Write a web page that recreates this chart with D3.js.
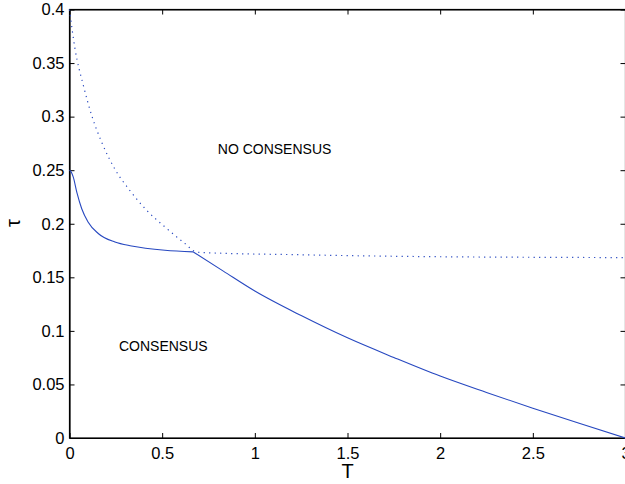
<!DOCTYPE html>
<html>
<head>
<meta charset="utf-8">
<script src="https://cdn.jsdelivr.net/npm/d3@7"></script>
<style>
  html, body { margin: 0; padding: 0; background: #fff; overflow: hidden; }
  svg { display: block; font-family: 'Liberation Sans', Arial, Helvetica, sans-serif; }
  .axis path, .axis line { stroke: #000; }
  .axis text { font-size: 16.5px; fill: #000; }
</style>
</head>
<body>
<script>
// consensus boundary, left branch (up to the kink)
const solidLeftT   = [0, 0.01, 0.02, 0.04, 0.066, 0.10, 0.155, 0.245, 0.335, 0.515, 0.668];
const solidLeftTau = [0.25, 0.248, 0.2437, 0.229, 0.214, 0.2017, 0.1909, 0.183, 0.1793, 0.1753, 0.1737];

// consensus boundary, right branch
const solidRightT   = [0.668, 0.83, 1.0, 1.25, 1.5, 1.75, 2.0, 2.25, 2.5, 2.75, 3.0];
const solidRightTau = [0.1737, 0.1558, 0.1372, 0.1143, 0.0935, 0.0752, 0.0578, 0.0425, 0.0278, 0.0137, 0];

// dotted curve
const dottedT   = [0, 0.03, 0.075, 0.12, 0.174, 0.245, 0.326, 0.416, 0.515, 0.623, 0.686, 0.8, 1.2, 1.6, 2.0, 2.5, 3.0];
const dottedTau = [0.40, 0.363, 0.329, 0.301, 0.276, 0.251, 0.231, 0.2126, 0.197, 0.1815, 0.1735, 0.1726, 0.1712, 0.17, 0.1692, 0.1687, 0.1684];

const xTicks = [0, 0.5, 1, 1.5, 2, 2.5, 3];
const yTicks = [0, 0.05, 0.1, 0.15, 0.2, 0.25, 0.3, 0.35, 0.4];

const labelText = ['NO CONSENSUS', 'CONSENSUS'];
const labelT    = [0.8, 0.267];
const labelTau  = [0.27, 0.0855];

const w = 625,
      h = 484,
      mLeft = 69.5,
      mRight = 625.5,
      mTop = 9.5,
      mBottom = 438;

const svg = d3.select('body')
            .append('svg')
            .attr('width', w)
            .attr('height', h);

const xScale = d3.scaleLinear()
                .domain([0, 3])
                .range([mLeft, mRight]);

const yScale = d3.scaleLinear()
                .domain([0, 0.4])
                .range([mBottom, mTop]);

const fmt = d => d3.format('')(d);

// box
svg.append('rect')
    .attr('x', mLeft)
    .attr('y', mTop)
    .attr('width', mRight - mLeft)
    .attr('height', mBottom - mTop)
    .attr('fill', 'none')
    .attr('stroke', '#000')
    .attr('stroke-width', 1.2);

// inward ticks on all four sides
svg.append('g')
    .attr('class', 'axis')
    .attr('transform', 'translate(0,' + mBottom + ')')
    .call(d3.axisBottom(xScale).tickValues(xTicks).tickFormat(fmt)
            .tickSizeInner(-5).tickSizeOuter(0).tickPadding(9));

svg.append('g')
    .attr('class', 'axis')
    .attr('transform', 'translate(0,' + mTop + ')')
    .call(d3.axisTop(xScale).tickValues(xTicks).tickFormat('')
            .tickSizeInner(-5).tickSizeOuter(0));

svg.append('g')
    .attr('class', 'axis')
    .attr('transform', 'translate(' + mLeft + ',0)')
    .call(d3.axisLeft(yScale).tickValues(yTicks).tickFormat(fmt)
            .tickSizeInner(-5).tickSizeOuter(0).tickPadding(5));

svg.append('g')
    .attr('class', 'axis')
    .attr('transform', 'translate(' + mRight + ',0)')
    .call(d3.axisRight(yScale).tickValues(yTicks).tickFormat('')
            .tickSizeInner(-5).tickSizeOuter(0));

svg.selectAll('.axis .domain').attr('stroke-width', 1.2);

const line = d3.line()
                .x(d => xScale(d[0]))
                .y(d => yScale(d[1]))
                .curve(d3.curveMonotoneX);

const zip = (a, b) => a.map((v, i) => [v, b[i]]);

svg.append('path')
    .datum(zip(dottedT, dottedTau))
    .attr('d', line)
    .attr('fill', 'none')
    .attr('stroke', '#2748c0')
    .attr('stroke-width', 1.2)
    .attr('stroke-dasharray', '1.2,4.3');

[zip(solidLeftT, solidLeftTau), zip(solidRightT, solidRightTau)].forEach(seg => {
    svg.append('path')
        .datum(seg)
        .attr('d', line)
        .attr('fill', 'none')
        .attr('stroke', '#2748c0')
        .attr('stroke-width', 1.1);
});

svg.selectAll('.region')
    .data(labelText)
    .enter()
    .append('text')
    .attr('class', 'region')
    .attr('x', (d, i) => xScale(labelT[i]))
    .attr('y', (d, i) => yScale(labelTau[i]))
    .attr('dy', '0.35em')
    .attr('font-size', '14px')
    .text(d => d);

svg.append('text')
    .attr('x', (mLeft + mRight) / 2)
    .attr('y', 478)
    .attr('text-anchor', 'middle')
    .attr('font-size', '20px')
    .text('T');

svg.append('text')
    .attr('transform', 'translate(20,223) rotate(-90)')
    .attr('text-anchor', 'middle')
    .attr('font-size', '20px')
    .text('τ');
</script>
</body>
</html>
